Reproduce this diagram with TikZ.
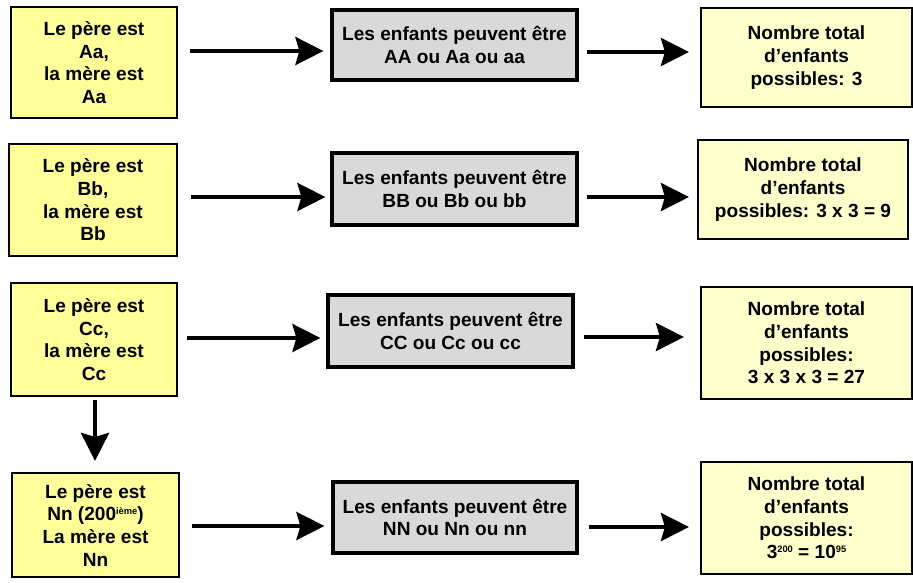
\documentclass[tikz,border=0pt]{standalone}
\usepackage{fontspec}
\setmainfont{Liberation Sans}
\usetikzlibrary{arrows.meta}
\definecolor{yel}{RGB}{255,255,153}
\definecolor{cream}{RGB}{255,255,204}
\definecolor{gry}{RGB}{217,217,217}
\newcommand{\supsm}[2]{\raisebox{#1}{\fontsize{7}{7}\selectfont #2}}
\begin{document}
\begin{tikzpicture}[x=0.75pt,y=-0.75pt,
  box/.style={draw=black, line width=1.6pt, inner sep=0pt, align=center,
    font=\fontsize{14.3}{17}\selectfont\bfseries},
  parent/.style={box, fill=yel},
  kids/.style={box, fill=gry, line width=2.4pt, minimum width=183.75pt},
  total/.style={box, fill=cream, minimum width=158.25pt},
  arr/.style={line width=2.8pt, -{Stealth[length=21pt,width=21pt,inset=3pt]}}]
\useasboundingbox (0,0) rectangle (913,582);

% row 1
\node[parent, minimum width=124.5pt, minimum height=83.25pt] (A1) at (94,62.5)
  {Le père est\\Aa,\\la mère est\\Aa};
\node[kids, minimum height=52.5pt] (A2) at (454.5,45)
  {Les enfants peuvent être\\AA ou Aa ou aa};
\node[total, minimum height=74.25pt] (A3) at (806.5,57.5)
  {Nombre total\\d’enfants\\possibles: 3};

% row 2
\node[parent, minimum width=126pt, minimum height=84pt] (B1) at (93,200)
  {Le père est\\Bb,\\la mère est\\Bb};
\node[kids, minimum height=54pt] (B2) at (454.5,189)
  {Les enfants peuvent être\\BB ou Bb ou bb};
\node[total, minimum width=157.5pt, minimum height=74.25pt] (B3) at (803,189.5)
  {Nombre total\\d’enfants\\possibles: 3 x 3 = 9};

% row 3
\node[parent, minimum width=124.5pt, minimum height=84.75pt] (C1) at (94,339.5)
  {Le père est\\Cc,\\la mère est\\Cc};
\node[kids, minimum height=54pt] (C2) at (450.5,331)
  {Les enfants peuvent être\\CC ou Cc ou cc};
\node[total, minimum height=84pt] (C3) at (806.5,343)
  {Nombre total\\d’enfants\\possibles:\\3 x 3 x 3 = 27};

% row 4
\node[parent, minimum width=125.25pt, minimum height=78pt] (N1) at (95.5,525)
  {Le père est\\Nn (200\supsm{5pt}{ième})\\La mère est\\Nn};
\node[kids, minimum width=183pt, minimum height=53.25pt] (N2) at (455,517.5)
  {Les enfants peuvent être\\NN ou Nn ou nn};
\node[total, minimum height=84pt] (N3) at (806.5,518)
  {Nombre total\\d’enfants\\possibles:\\3\supsm{5pt}{200} = 10\supsm{5pt}{95}};

% arrows
\draw[arr, shorten <=9pt, shorten >=5.25pt] (A1.east |- 0,51) -- (A2.west |- 0,51);
\draw[arr, shorten <=6pt, shorten >=8.25pt] (A2.east |- 0,52) -- (A3.west |- 0,52);
\draw[arr, shorten <=9.75pt, shorten >=3.75pt] (B1.east |- 0,197) -- (B2.west |- 0,197);
\draw[arr, shorten <=6pt, shorten >=6pt] (B2.east |- 0,197) -- (B3.west |- 0,197);
\draw[arr, shorten <=6.75pt, shorten >=4.5pt] (C1.east |- 0,338) -- (C2.west |- 0,338);
\draw[arr, shorten <=6.75pt, shorten >=12pt] (C2.east |- 0,337) -- (C3.west |- 0,337);
\draw[arr, shorten <=9pt, shorten >=5.25pt] (N1.east |- 0,526) -- (N2.west |- 0,526);
\draw[arr, shorten <=7.5pt, shorten >=8.25pt] (N2.east |- 0,527) -- (N3.west |- 0,527);
\draw[arr, shorten <=2.25pt, shorten >=8.25pt] (C1.south -| 95,0) -- (N1.north -| 95,0);
\end{tikzpicture}
\end{document}
